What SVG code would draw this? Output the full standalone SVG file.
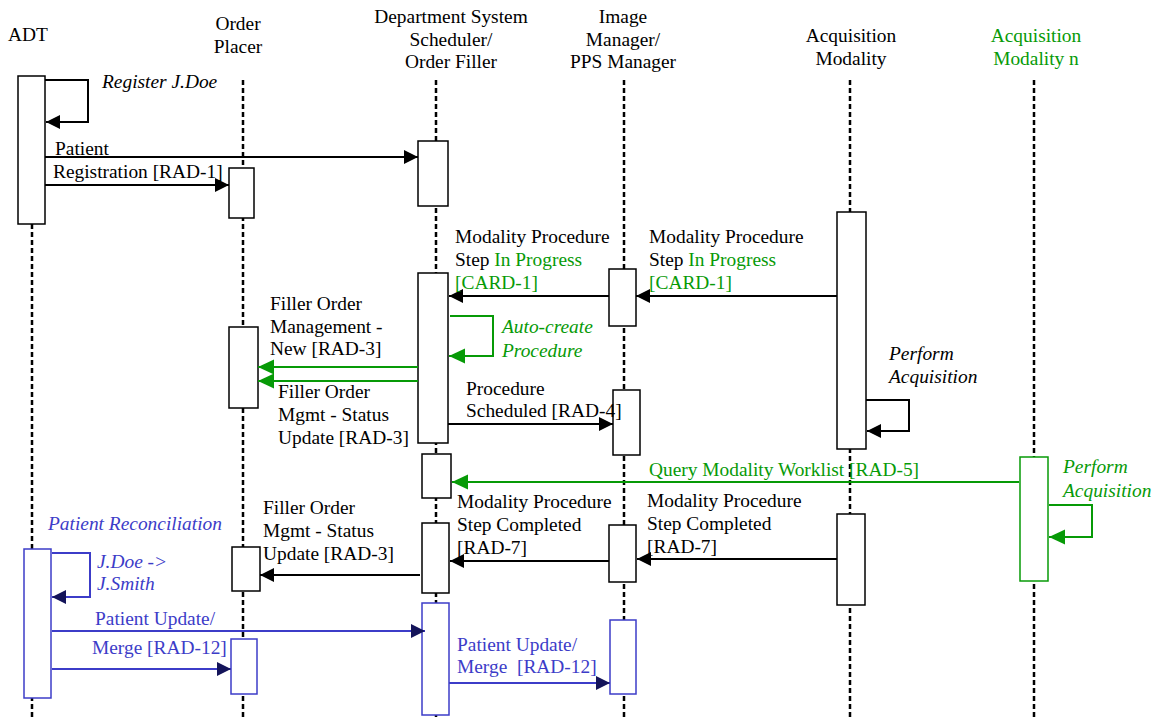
<svg xmlns="http://www.w3.org/2000/svg" width="1161" height="717" viewBox="0 0 1161 717">
<style>
text{font-family:"Liberation Serif","Times New Roman",serif;font-size:19.4px;fill:#000}
.it{font-style:italic}
.g{fill:#079a07}
.b{fill:#3c3cc8}
.mid{text-anchor:middle}
.life{stroke:#000;stroke-width:2.5;stroke-dasharray:5 3;fill:none}
.box{fill:#fff;stroke:#000;stroke-width:1.5}
.gbox{fill:#fff;stroke:#079a07;stroke-width:1.5}
.bbox{fill:#fff;stroke:#3c3cc8;stroke-width:1.5}
.msg{stroke:#000;stroke-width:2;fill:none}
.gmsg{stroke:#079a07;stroke-width:2;fill:none}
.bmsg{stroke:#3c3cc8;stroke-width:2;fill:none}
</style>
<defs>
<marker id="ab" markerUnits="userSpaceOnUse" markerWidth="15" markerHeight="15" refX="14" refY="7" orient="auto"><path d="M0,0 L14,7 L0,14 z" fill="#000"/></marker>
<marker id="ag" markerUnits="userSpaceOnUse" markerWidth="17" markerHeight="17" refX="16" refY="7.5" orient="auto"><path d="M0,0 L16,7.5 L0,15 z" fill="#079a07"/></marker>
<marker id="an" markerUnits="userSpaceOnUse" markerWidth="15" markerHeight="15" refX="14" refY="7" orient="auto"><path d="M0,0 L14,7 L0,14 z" fill="#14145a"/></marker>
</defs>

<g id="lifelines">
<line class="life" x1="32" y1="80" x2="32" y2="717"/>
<line class="life" x1="243" y1="80" x2="243" y2="717"/>
<line class="life" x1="436" y1="80" x2="436" y2="717"/>
<line class="life" x1="624" y1="80" x2="624" y2="717"/>
<line class="life" x1="850" y1="80" x2="850" y2="717"/>
<line class="life" x1="1034" y1="80" x2="1034" y2="717"/>
</g>

<g id="headers">
<text x="8" y="41">ADT</text>
<text class="mid" x="238" y="30">Order</text>
<text class="mid" x="238" y="53">Placer</text>
<text class="mid" x="451" y="23">Department System</text>
<text class="mid" x="451" y="46">Scheduler/</text>
<text class="mid" x="451" y="68">Order Filler</text>
<text class="mid" x="623" y="23">Image</text>
<text class="mid" x="623" y="46">Manager/</text>
<text class="mid" x="623" y="68">PPS Manager</text>
<text class="mid" x="851" y="42">Acquisition</text>
<text class="mid" x="851" y="65">Modality</text>
<text class="mid g" x="1036" y="42">Acquisition</text>
<text class="mid g" x="1036" y="65">Modality n</text>
</g>

<g id="activations">
<rect id="adt-1" class="box" x="18" y="76" width="27" height="148"/>
<rect id="op-1" class="box" x="229" y="168" width="25" height="50"/>
<rect id="dss-1" class="box" x="418" y="141" width="30" height="65"/>
<rect id="am-1" class="box" x="837" y="212" width="29" height="237"/>
<rect id="im-1" class="box" x="609" y="269" width="27" height="57"/>
<rect id="dss-2" class="box" x="418" y="273" width="30" height="170"/>
<rect id="op-2" class="box" x="229" y="327" width="29" height="81"/>
<rect id="im-2" class="box" x="613" y="390" width="27" height="65"/>
<rect id="dss-3" class="box" x="422" y="454" width="29" height="44"/>
<rect id="amn-1" class="gbox" x="1020" y="457" width="28" height="124"/>
<rect id="am-2" class="box" x="837" y="514" width="28" height="91"/>
<rect id="im-3" class="box" x="609" y="525" width="27" height="57"/>
<rect id="dss-4" class="box" x="422" y="523" width="27" height="70"/>
<rect id="op-3" class="box" x="232" y="547" width="28" height="44"/>
<rect id="adt-2" class="bbox" x="24" y="549" width="27" height="149"/>
<rect id="dss-5" class="bbox" x="422" y="603" width="27" height="112"/>
<rect id="im-4" class="bbox" x="610" y="620" width="26" height="74"/>
<rect id="op-4" class="bbox" x="231" y="639" width="26" height="55"/>
</g>

<g id="connectors">
<polyline class="msg" points="45,80 88,80 88,122 46,122" marker-end="url(#ab)"/>
<line class="msg" x1="45" y1="157" x2="418" y2="157" marker-end="url(#ab)"/>
<line class="msg" x1="45" y1="185" x2="229" y2="185" marker-end="url(#ab)"/>
<line class="msg" x1="837" y1="296" x2="636" y2="296" marker-end="url(#ab)"/>
<line class="msg" x1="609" y1="296" x2="449" y2="296" marker-end="url(#ab)"/>
<polyline class="gmsg" points="450,316 493,316 493,356 449,356" marker-end="url(#ag)"/>
<line class="gmsg" x1="418" y1="367" x2="258" y2="367" marker-end="url(#ag)"/>
<line class="gmsg" x1="418" y1="381" x2="258" y2="381" marker-end="url(#ag)"/>
<line class="msg" x1="448" y1="424" x2="613" y2="424" marker-end="url(#ab)"/>
<polyline class="msg" points="866,400 909,400 909,431 867,431" marker-end="url(#ab)"/>
<line class="gmsg" x1="1019" y1="482" x2="452" y2="482" marker-end="url(#ag)"/>
<polyline class="gmsg" points="1049,505 1092,505 1092,537 1049,537" marker-end="url(#ag)"/>
<line class="msg" x1="837" y1="559" x2="637" y2="559" marker-end="url(#ab)"/>
<line class="msg" x1="609" y1="561" x2="450" y2="561" marker-end="url(#ab)"/>
<line class="msg" x1="420" y1="575" x2="260" y2="575" marker-end="url(#ab)"/>
<polyline class="bmsg" points="52,553 90,553 90,597 52,597" marker-end="url(#an)"/>
<line class="bmsg" x1="52" y1="631" x2="425" y2="631" marker-end="url(#an)"/>
<line class="bmsg" x1="52" y1="669" x2="231" y2="669" marker-end="url(#an)"/>
<line class="bmsg" x1="449" y1="683" x2="610" y2="683" marker-end="url(#an)"/>
</g>

<g id="labels">
<text class="it" x="102" y="88">Register J.Doe</text>
<text x="55" y="155">Patient</text>
<text x="53" y="178">Registration [RAD-1]</text>
<text x="455" y="243">Modality Procedure</text>
<text x="455" y="266">Step <tspan class="g">In Progress</tspan></text>
<text class="g" x="455" y="289">[CARD-1]</text>
<text x="649" y="243">Modality Procedure</text>
<text x="649" y="266">Step <tspan class="g">In Progress</tspan></text>
<text class="g" x="649" y="289">[CARD-1]</text>
<text x="270" y="310">Filler Order</text>
<text x="270" y="333">Management -</text>
<text x="270" y="355">New [RAD-3]</text>
<text class="it g" x="502" y="333">Auto-create</text>
<text class="it g" x="502" y="357">Procedure</text>
<text x="278" y="398">Filler Order</text>
<text x="278" y="421">Mgmt - Status</text>
<text x="278" y="444">Update [RAD-3]</text>
<text x="466" y="395">Procedure</text>
<text x="466" y="417">Scheduled [RAD-4]</text>
<text class="it" x="889" y="360">Perform</text>
<text class="it" x="889" y="383">Acquisition</text>
<text class="g" x="649" y="476">Query Modality Worklist [RAD-5]</text>
<text class="it g" x="1063" y="473">Perform</text>
<text class="it g" x="1063" y="497">Acquisition</text>
<text x="457" y="508">Modality Procedure</text>
<text x="457" y="531">Step Completed</text>
<text x="457" y="554">[RAD-7]</text>
<text x="647" y="507">Modality Procedure</text>
<text x="647" y="530">Step Completed</text>
<text x="647" y="553">[RAD-7]</text>
<text x="263" y="514">Filler Order</text>
<text x="263" y="537">Mgmt - Status</text>
<text x="263" y="560">Update [RAD-3]</text>
<text class="it b" x="48" y="530">Patient Reconciliation</text>
<text class="it b" x="97" y="568">J.Doe -&gt;</text>
<text class="it b" x="97" y="590">J.Smith</text>
<text class="b" x="95" y="625">Patient Update/</text>
<text class="b" x="92" y="654">Merge [RAD-12]</text>
<text class="b" x="457" y="651">Patient Update/</text>
<text class="b" x="457" y="673" xml:space="preserve">Merge  [RAD-12]</text>
</g>
</svg>
